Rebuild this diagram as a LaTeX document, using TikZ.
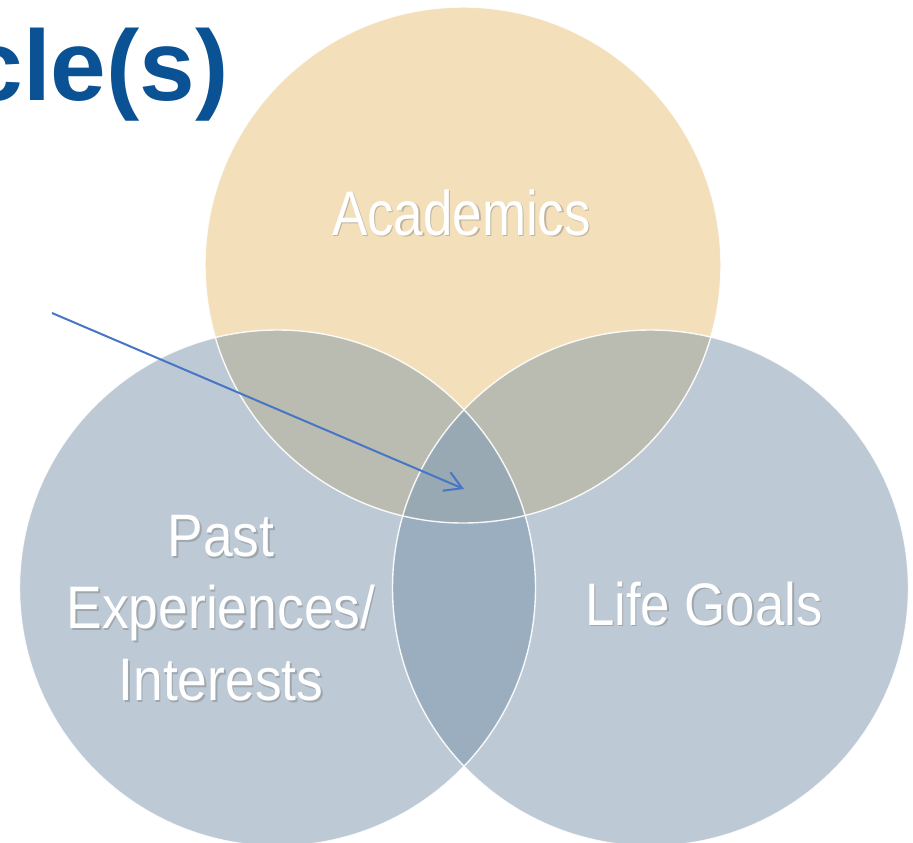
\documentclass[tikz,border=0pt]{standalone}
\usepackage{fontspec}
\setmainfont{Liberation Sans}
\newfontfamily\titlefont{Liberation Sans}
\newfontfamily\acadfont[FakeStretch=0.84]{Liberation Sans}
\newfontfamily\lifefont[FakeStretch=0.88]{Liberation Sans}
\newfontfamily\pastfont[FakeStretch=0.89]{Liberation Sans}
\usetikzlibrary{arrows.meta}
\definecolor{acadc}{HTML}{F3DFBA}
\definecolor{bluec}{HTML}{BDC9D5}
\definecolor{mixc}{HTML}{BABBB1}
\definecolor{lrc}{HTML}{9AAEBF}
\definecolor{tric}{HTML}{98A9B4}
\definecolor{titlec}{RGB}{11,82,148}
\definecolor{arrowc}{RGB}{70,118,196}
\tikzset{
  ring/.style={draw=white, line width=1.4pt, opacity=0.9},
  lbl/.style={inner sep=0pt, text=white},
  lblshadow/.style={inner sep=0pt, text=black!60, opacity=0.35},
  pointer/.style={draw=arrowc, line width=2pt, -{Straight Barb[length=17pt,width=20pt,line width=2pt]}}
}
\begin{document}
\begin{tikzpicture}[x=1pt,y=-1pt]
\useasboundingbox (0,0) rectangle (913,843);
\coordinate (ca) at (463,265);
\coordinate (cl) at (277.5,588);
\coordinate (cr) at (650.5,588);
\def\R{258pt}
% base circles
\fill[bluec] (cl) circle[radius=\R];
\fill[bluec] (cr) circle[radius=\R];
\begin{scope}
  \clip (cl) circle[radius=\R];
  \fill[lrc] (cr) circle[radius=\R];
\end{scope}
\fill[acadc] (ca) circle[radius=\R];
\begin{scope}
  \clip (ca) circle[radius=\R];
  \fill[mixc] (cl) circle[radius=\R];
  \fill[mixc] (cr) circle[radius=\R];
  \clip (cl) circle[radius=\R];
  \fill[tric] (cr) circle[radius=\R];
\end{scope}
% outlines
\draw[ring] (cl) circle[radius=\R];
\draw[ring] (cr) circle[radius=\R];
\draw[ring] (ca) circle[radius=\R];
% title
\node[anchor=base east, inner sep=0pt, text=titlec,
      font=\titlefont\bfseries\fontsize{100}{100}\selectfont] (title) at (229,100) {cle(s)};
% labels
\node[lblshadow, anchor=base, font=\acadfont\fontsize{63}{63}\selectfont] (acadS) at (463,236.5) {Academics};
\node[lbl, anchor=base, font=\acadfont\fontsize{63}{63}\selectfont] (acad) at (461.5,235) {Academics};
\node[lblshadow, anchor=base, font=\lifefont\fontsize{60}{60}\selectfont] (lifeS) at (705.5,626.5) {Life Goals};
\node[lbl, anchor=base, font=\lifefont\fontsize{60}{60}\selectfont] (life) at (704,625) {Life Goals};
\node[lblshadow, align=center, font=\pastfont\fontsize{60}{72}\selectfont] (pastS) at (222.5,610) {Past\\Experiences/\\Interests};
\node[lbl, align=center, font=\pastfont\fontsize{60}{72}\selectfont] (past) at (221,608.5) {Past\\Experiences/\\Interests};
% arrow
\coordinate (as) at (52,313);
\coordinate (ae) at (464,489);
\draw[pointer] (as) -- (ae);
\end{tikzpicture}
\end{document}
